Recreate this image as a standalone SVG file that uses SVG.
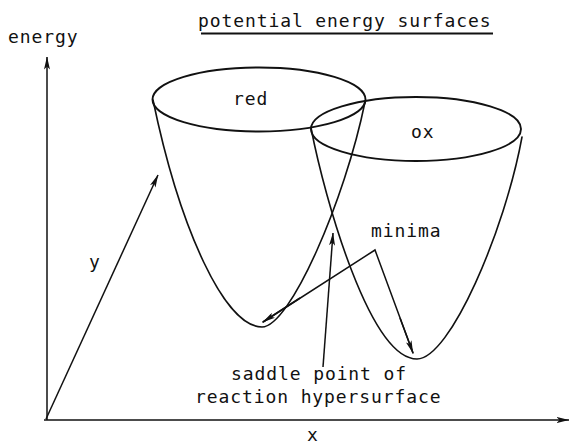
<svg xmlns="http://www.w3.org/2000/svg" width="569" height="444" viewBox="0 0 569 444">
  <style>
    .ln { fill: none; stroke: #111; stroke-width: 1.6; stroke-linecap: round; }
    .rim { fill: none; stroke: #111; stroke-width: 1.9; }
    .ar { fill: none; stroke: #111; stroke-width: 1.5; marker-end: url(#ah); }
    .t { font-family: "DejaVu Sans Mono", "Liberation Mono", monospace; font-size: 18px; letter-spacing: 0.9px; fill: #111; }
  </style>
  <defs>
    <marker id="ah" viewBox="0 0 13 6" refX="12.5" refY="3" markerWidth="13" markerHeight="6" markerUnits="userSpaceOnUse" orient="auto">
      <path d="M0,0 L13,3 L0,6 L3,3 z" fill="#111"/>
    </marker>
  </defs>
  <rect width="569" height="444" fill="#fff"/>

  <g id="title">
    <text class="t" x="198" y="27">potential energy surfaces</text>
    <line x1="201" y1="33.5" x2="493" y2="33.5" stroke="#111" stroke-width="1.8"/>
  </g>

  <g id="axes">
    <text class="t" x="8" y="43">energy</text>
    <text class="t" x="89" y="268">y</text>
    <text class="t" x="307" y="441">x</text>
  </g>

  <g id="red-bowl">
    <path class="ln" d="M153,100 C180,230 225,327 262,327 C290,327 345,200 365,102"/>
    <ellipse class="rim" cx="259" cy="99.5" rx="106.5" ry="32"/>
    <text class="t" x="233" y="105">red</text>
  </g>

  <g id="ox-bowl">
    <path class="ln" d="M311,128 C325,200 370,359 417,359 C450,359 505,230 522,137"/>
    <ellipse class="rim" cx="416" cy="129" rx="105" ry="32"/>
    <text class="t" x="411" y="138">ox</text>
  </g>

  <g id="labels">
    <text class="t" x="371" y="237">minima</text>
    <text class="t" x="231" y="380">saddle point of</text>
    <text class="t" x="195" y="403">reaction hypersurface</text>
  </g>

  <g id="connectors">
    <line class="ar" x1="47" y1="420" x2="47" y2="57"/>
    <line class="ar" x1="44" y1="420" x2="569" y2="420"/>
    <line class="ar" x1="46" y1="419" x2="158" y2="175"/>
    <line class="ar" x1="323" y1="367" x2="333" y2="233"/>
    <polyline class="ln" points="263,322 375,250 413,353" style="stroke-width:1.5"/>
    <line class="ar" x1="300" y1="298" x2="263" y2="322"/>
    <line class="ar" x1="400" y1="318" x2="413" y2="353"/>
  </g>
</svg>
